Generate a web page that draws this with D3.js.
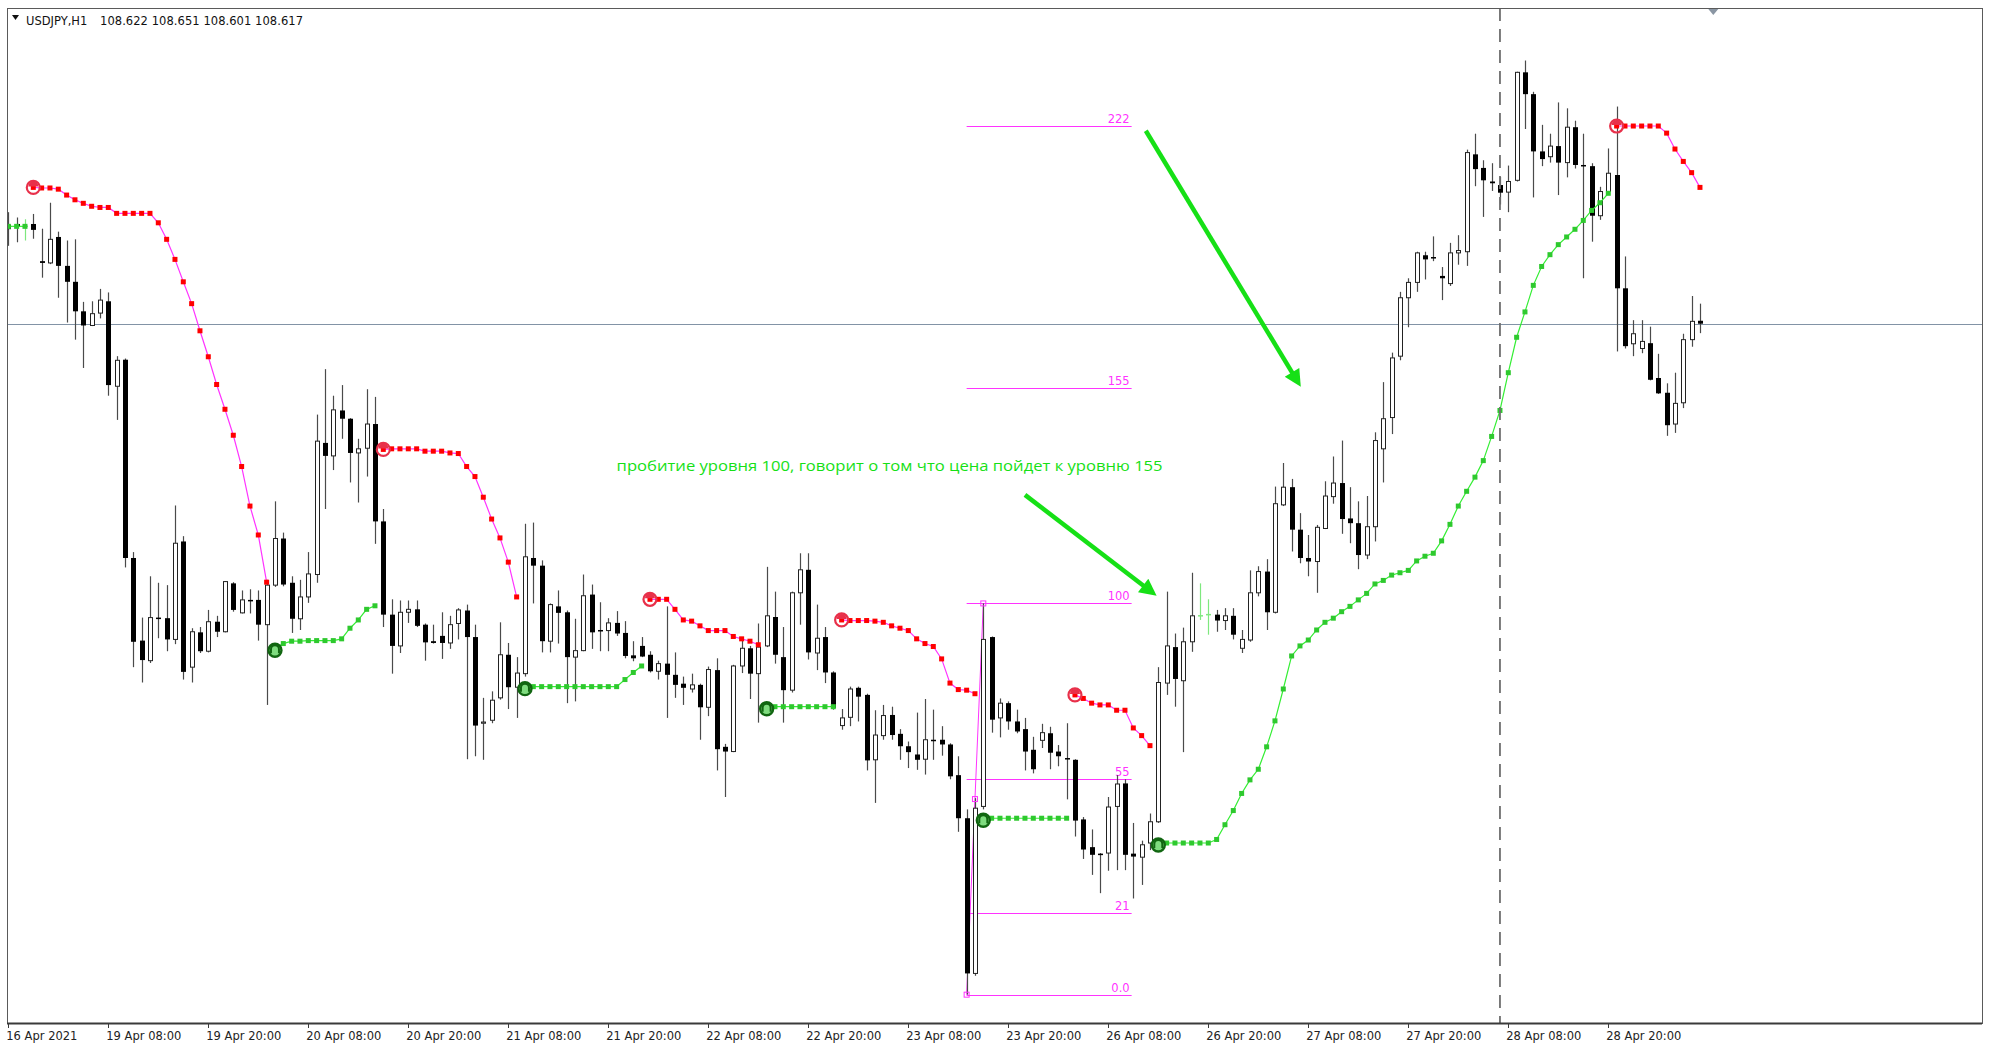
<!DOCTYPE html>
<html>
<head>
<meta charset="utf-8">
<script src="https://cdn.jsdelivr.net/npm/d3@7"></script>
<style>
    html, body { margin: 0; padding: 0; background: #fff; }
    svg { display: block; }
    text { font-family: "DejaVu Sans", sans-serif; }
</style>
</head>
<body>
<div id="chart"></div>
<script>
// USDJPY H1 bars, index 0 = 16 Apr 20:00, one bar per hour
const openPrices = [
    108.778,108.786,108.782,108.786,108.723,108.720,108.764,108.715,108.688,108.638,
    108.614,108.635,108.655,108.511,108.556,108.220,108.080,108.046,108.119,108.118,
    108.082,108.248,108.035,108.094,108.062,108.112,108.095,108.177,108.127,108.149,
    108.149,108.107,108.174,108.253,108.178,108.117,108.154,108.192,108.415,108.393,
    108.470,108.456,108.398,108.406,108.447,108.282,108.124,108.071,108.128,108.133,
    108.107,108.079,108.088,108.076,108.109,108.131,108.086,107.940,107.945,107.983,
    108.056,108.001,108.024,108.220,108.207,108.079,108.138,108.128,108.052,108.063,
    108.158,108.098,108.097,108.110,108.093,108.055,108.071,108.056,108.028,108.041,
    108.022,108.007,107.998,108.005,107.967,108.030,107.900,107.892,108.037,108.067,
    108.024,108.071,108.120,108.052,107.996,108.161,108.200,108.059,108.086,108.026,
    107.936,107.950,108.000,107.988,107.878,107.919,107.954,107.922,107.901,107.887,
    107.879,107.912,107.912,107.904,107.852,107.779,107.516,107.799,108.086,107.949,
    107.974,107.943,107.930,107.895,107.911,107.923,107.892,107.881,107.878,107.777,
    107.730,107.719,107.720,107.799,107.838,107.719,107.713,107.737,107.773,108.008,
    108.069,108.012,108.078,108.122,108.124,108.124,108.114,108.122,108.067,108.081,
    108.161,108.197,108.128,108.310,108.340,108.268,108.220,108.214,108.270,108.324,
    108.347,108.287,108.279,108.225,108.273,108.405,108.458,108.562,108.661,108.687,
    108.733,108.730,108.698,108.685,108.737,108.739,108.904,108.881,108.858,108.852,
    108.840,108.860,109.043,109.006,108.909,108.900,108.918,108.890,108.950,108.886,
    108.884,108.800,108.841,108.869,108.677,108.583,108.575,108.584,108.525,108.500,
    108.447,108.483,108.590,108.622
];
const highPrices = [
    108.806,108.797,108.794,108.803,108.778,108.822,108.773,108.758,108.760,108.654,
    108.655,108.676,108.670,108.562,108.558,108.230,108.119,108.189,108.178,108.174,
    108.309,108.257,108.101,108.103,108.132,108.122,108.181,108.179,108.165,108.167,
    108.165,108.183,108.316,108.263,108.189,108.183,108.230,108.463,108.540,108.495,
    108.513,108.457,108.422,108.506,108.493,108.303,108.150,108.148,108.148,108.148,
    108.109,108.107,108.128,108.122,108.135,108.141,108.107,107.983,107.994,108.111,
    108.076,108.052,108.278,108.280,108.216,108.143,108.165,108.131,108.117,108.192,
    108.175,108.145,108.118,108.130,108.113,108.079,108.086,108.062,108.046,108.138,
    108.060,108.019,108.024,108.007,108.036,108.050,107.905,108.039,108.082,108.071,
    108.109,108.205,108.163,108.103,108.163,108.228,108.228,108.141,108.103,108.028,
    107.964,108.002,108.002,107.990,107.962,107.971,107.968,107.930,107.909,107.958,
    107.981,107.963,107.935,107.906,107.884,107.794,107.813,108.143,108.087,107.982,
    107.977,107.963,107.949,107.917,107.939,107.934,107.903,107.940,107.879,107.781,
    107.760,107.720,107.815,107.852,107.845,107.771,107.741,107.787,108.035,108.163,
    108.092,108.102,108.195,108.177,108.150,108.132,108.135,108.135,108.098,108.199,
    108.206,108.218,108.341,108.381,108.354,108.296,108.259,108.276,108.350,108.392,
    108.419,108.340,108.316,108.325,108.433,108.518,108.568,108.671,108.694,108.739,
    108.739,108.765,108.713,108.754,108.767,108.912,108.939,108.894,108.889,108.866,
    108.885,109.044,109.063,109.010,108.954,108.939,108.992,108.982,108.961,108.939,
    108.889,108.849,108.914,108.985,108.731,108.623,108.623,108.612,108.566,108.516,
    108.534,108.600,108.664,108.651
];
const lowPrices = [
    108.749,108.755,108.758,108.761,108.695,108.718,108.661,108.619,108.590,108.542,
    108.613,108.626,108.495,108.454,108.204,108.035,108.009,108.042,108.084,108.062,
    108.074,108.014,108.009,108.059,108.060,108.086,108.094,108.129,108.126,108.126,
    108.080,107.971,108.171,108.172,108.093,108.098,108.144,108.178,108.303,108.369,
    108.422,108.348,108.314,108.358,108.244,108.103,108.024,108.059,108.110,108.103,
    108.046,108.075,108.049,108.066,108.082,107.879,107.884,107.878,107.940,107.980,
    107.964,107.949,108.019,108.143,108.060,108.060,108.075,107.974,107.977,108.062,
    108.066,108.062,108.062,108.088,108.050,108.045,108.052,108.026,108.014,107.949,
    107.983,107.971,107.992,107.912,107.952,107.860,107.815,107.891,108.025,107.981,
    107.941,108.069,108.041,107.941,107.992,108.107,108.048,108.030,108.008,107.963,
    107.929,107.935,107.943,107.860,107.805,107.912,107.912,107.878,107.864,107.861,
    107.853,107.878,107.885,107.845,107.756,107.480,107.512,107.794,107.924,107.916,
    107.929,107.923,107.860,107.855,107.898,107.862,107.867,107.811,107.748,107.710,
    107.683,107.652,107.690,107.691,107.691,107.643,107.666,107.725,107.771,107.988,
    107.968,107.891,108.061,108.115,108.090,108.095,108.098,108.082,108.059,108.078,
    108.155,108.098,108.126,108.308,108.231,108.211,108.189,108.161,108.269,108.312,
    108.261,108.245,108.201,108.218,108.248,108.348,108.430,108.555,108.611,108.671,
    108.692,108.723,108.657,108.681,108.717,108.715,108.850,108.798,108.842,108.819,
    108.806,108.858,108.947,108.831,108.884,108.890,108.835,108.865,108.880,108.694,
    108.756,108.793,108.838,108.570,108.575,108.562,108.567,108.521,108.498,108.427,
    108.432,108.474,108.578,108.601
];
const closePrices = [
    108.784,108.781,108.782,108.776,108.720,108.760,108.715,108.688,108.638,108.614,
    108.634,108.657,108.513,108.555,108.220,108.078,108.047,108.119,108.118,108.082,
    108.245,108.027,108.095,108.062,108.112,108.095,108.180,108.132,108.149,108.147,
    108.107,108.174,108.253,108.175,108.117,108.154,108.193,108.418,108.393,108.471,
    108.456,108.398,108.405,108.447,108.282,108.124,108.071,108.128,108.133,108.105,
    108.077,108.076,108.076,108.107,108.132,108.086,107.936,107.942,107.979,108.056,
    108.001,108.025,108.222,108.207,108.079,108.141,108.127,108.052,108.063,108.156,
    108.094,108.097,108.110,108.092,108.054,108.050,108.053,108.028,108.041,108.022,
    108.005,108.000,108.005,107.967,108.031,107.896,107.892,108.037,108.067,108.024,
    108.069,108.122,108.056,107.996,108.161,108.200,108.060,108.084,108.026,107.966,
    107.949,107.998,107.985,107.877,107.920,107.953,107.920,107.901,107.891,107.878,
    107.912,107.911,107.904,107.850,107.779,107.516,107.796,108.082,107.946,107.974,
    107.943,107.926,107.892,107.862,107.924,107.890,107.884,107.879,107.775,107.726,
    107.717,107.718,107.798,107.837,107.717,107.714,107.734,107.773,108.009,108.071,
    108.015,108.078,108.122,108.122,108.124,108.114,108.122,108.090,108.082,108.161,
    108.197,108.128,108.312,108.340,108.268,108.220,108.214,108.272,108.325,108.347,
    108.286,108.279,108.225,108.273,108.419,108.456,108.559,108.661,108.687,108.737,
    108.726,108.728,108.694,108.737,108.741,108.907,108.879,108.860,108.855,108.839,
    108.858,109.043,109.006,108.909,108.896,108.918,108.890,108.950,108.886,108.884,
    108.800,108.841,108.872,108.677,108.579,108.600,108.587,108.522,108.499,108.445,
    108.482,108.590,108.621,108.617
];

// Trailing stop indicator: each segment starts at bar "from"
const redStops = [
    { from: 3, values: [108.848,108.847,108.847,108.845,108.835,108.827,108.821,108.816,108.814,108.814,
        108.804,108.804,108.804,108.804,108.804,108.788,108.760,108.726,108.688,108.651,
        108.605,108.561,108.514,108.472,108.428,108.375,108.308,108.259,108.179] },
    { from: 45, values: [108.404,108.405,108.405,108.405,108.405,108.401,108.401,108.401,108.398,108.397,
        108.375,108.358,108.323,108.286,108.254,108.213,108.154] },
    { from: 77, values: [108.150,108.150,108.150,108.133,108.115,108.113,108.105,108.097,108.097,108.097,
        108.087,108.083,108.079,108.073] },
    { from: 100, values: [108.115,108.114,108.114,108.114,108.113,108.111,108.105,108.101,108.097,108.083,
        108.075,108.070,108.049,108.008,107.997,107.996,107.990] },
    { from: 128, values: [107.988,107.982,107.974,107.971,107.971,107.962,107.962,107.932,107.919,107.902] },
    { from: 193, values: [108.952,108.952,108.952,108.952,108.952,108.952,108.940,108.913,108.892,108.873,108.848] }
];
const greenStops = [
    { from: 0, values: [108.782,108.782,108.782], noIcon: true },
    { from: 32, values: [108.067,108.075,108.079,108.079,108.080,108.080,108.080,108.080,108.083,108.101,
        108.115,108.133,108.139] },
    { from: 62, values: [108.002,108.002,108.002,108.002,108.002,108.002,108.002,108.002,108.002,108.002,
        108.002,108.002,108.014,108.026,108.037] },
    { from: 91, values: [107.968,107.968,107.968,107.968,107.968,107.968,107.968,107.968,107.968] },
    { from: 117, values: [107.779,107.779,107.779,107.779,107.779,107.779,107.779,107.779,107.779,107.779,107.779] },
    { from: 138, values: [107.737,107.737,107.737,107.737,107.737,107.737,107.737,107.743,107.768,107.792,
        107.821,107.844,107.862,107.900,107.944,107.998,108.054,108.071,108.081,108.098,
        108.111,108.118,108.129,108.138,108.149,108.160,108.176,108.182,108.191,108.195,
        108.199,108.215,108.223,108.228,108.249,108.277,108.308,108.333,108.357,108.385,
        108.426,108.470,108.534,108.594,108.637,108.682,108.714,108.734,108.751,108.764,
        108.777,108.792,108.809,108.822,108.838] }
];

// Time axis labels, one every 12 bars
const timeLabels = ["16 Apr 2021","19 Apr 08:00","19 Apr 20:00","20 Apr 08:00","20 Apr 20:00",
    "21 Apr 08:00","21 Apr 20:00","22 Apr 08:00","22 Apr 20:00","23 Apr 08:00","23 Apr 20:00",
    "26 Apr 08:00","26 Apr 20:00","27 Apr 08:00","27 Apr 20:00","28 Apr 08:00","28 Apr 20:00"];

// Fibonacci retracement (bar 115 low -> bar 117 high)
const fibLevels = [0, 21, 55, 100, 155, 222];
const fibLabels = ["0.0", "21", "55", "100", "155", "222"];
const fibAnchors = [{ bar: 115, price: 107.480 }, { bar: 117, price: 108.143 }];
const fibEndBar = 134.8;

const symbolInfo = "USDJPY,H1";
const lastQuote = "108.622 108.651 108.601 108.617";
const bidPrice = 108.617;
const separatorBar = 179;

const noteText = "пробитие уровня 100, говорит о том что цена пойдет к уровню 155";
const noteAnchor = { bar: 73, price: 108.368 };
const noteArrows = [
    { from: [136.5, 108.944], to: [155.1, 108.510] },
    { from: [122.0, 108.327], to: [137.8, 108.156] }
];

const width = 1990, height = 1048;
const plot = { left: 7, top: 8, right: 1982, bottom: 1023 };
const noteGreen = "#16e016";

let svg, chart, x, y;

function setupChart() {
    svg = d3.select("#chart")
        .append("svg")
        .attr("width", width)
        .attr("height", height)
        .attr("viewBox", `0 0 ${width} ${height}`);

    svg.append("rect").attr("width", width).attr("height", height).attr("fill", "#fff");

    const defs = svg.append("defs");
    defs.append("clipPath").attr("id", "plotClip")
        .append("rect")
        .attr("x", plot.left).attr("y", plot.top)
        .attr("width", plot.right - plot.left).attr("height", plot.bottom - plot.top);
    defs.append("marker")
        .attr("id", "arrowHead")
        .attr("viewBox", "0 0 10 10")
        .attr("refX", 10).attr("refY", 5)
        .attr("markerWidth", 20).attr("markerHeight", 17)
        .attr("markerUnits", "userSpaceOnUse")
        .attr("orient", "auto")
        .append("path")
        .attr("d", "M0,0 L10,5 L0,10 Z")
        .attr("fill", noteGreen);

    // one bar = 8.33 px, the scales read the bar index and the price
    x = d3.scaleLinear().domain([0, 192]).range([8.3, 1608.3]);
    y = d3.scaleLinear().domain([107.432, 109.152]).range([plot.bottom, plot.top]);

    chart = svg.append("g").attr("clip-path", "url(#plotClip)");

    drawFibo();
    drawBidLine();
    drawCandles();
    drawStops(greenStops, "#33ee33", "#2ec92e", false);
    drawStops(redStops, "#ff33ff", "#ff0000", true);
    drawSeparator();
    drawFrame();
    drawTimeAxis();
    drawHeader();
    drawNote();
}

function drawBidLine() {
    chart.append("line")
        .attr("x1", plot.left).attr("x2", plot.right)
        .attr("y1", Math.round(y(bidPrice)) + 0.5).attr("y2", Math.round(y(bidPrice)) + 0.5)
        .attr("stroke", "#8293a6")
        .attr("stroke-width", 1);
}

function drawCandles() {
    const candles = openPrices.map((o, i) => ({
        i: i, o: o, h: highPrices[i], l: lowPrices[i], c: closePrices[i]
    }));
    const cx = d => Math.round(x(d.i));

    const g = chart.append("g").attr("class", "candles");

    // Wicks
    g.selectAll(".wick")
        .data(candles)
        .join("line")
        .attr("class", "wick")
        .attr("x1", d => cx(d) + 0.5).attr("x2", d => cx(d) + 0.5)
        .attr("y1", d => y(d.h)).attr("y2", d => y(d.l))
        .attr("stroke", d => d.o === d.c ? "#7ee87e" : "#4a4a4a")
        .attr("stroke-width", 1.2);

    // Bearish bodies (filled black)
    g.selectAll(".bear")
        .data(candles.filter(d => d.c < d.o))
        .join("rect")
        .attr("class", "bear")
        .attr("x", d => cx(d) - 2)
        .attr("y", d => y(d.o))
        .attr("width", 5)
        .attr("height", d => Math.max(1.5, y(d.c) - y(d.o)))
        .attr("fill", "#000");

    // Bullish bodies (hollow)
    g.selectAll(".bull")
        .data(candles.filter(d => d.c > d.o))
        .join("rect")
        .attr("class", "bull")
        .attr("x", d => cx(d) - 1.5)
        .attr("y", d => y(d.c))
        .attr("width", 4)
        .attr("height", d => Math.max(1, y(d.o) - y(d.c)))
        .attr("fill", "#fff")
        .attr("stroke", "#222")
        .attr("stroke-width", 1);

    // Doji bars are painted with the line colour
    g.selectAll(".doji")
        .data(candles.filter(d => d.c === d.o))
        .join("line")
        .attr("class", "doji")
        .attr("x1", d => cx(d) - 2).attr("x2", d => cx(d) + 3)
        .attr("y1", d => y(d.o)).attr("y2", d => y(d.o))
        .attr("stroke", "#7ee87e")
        .attr("stroke-width", 1.5);
}

function drawStops(segments, lineColor, dotColor, isRed) {
    const g = chart.append("g");
    const line = d3.line().x(d => x(d.bar)).y(d => y(d.price));

    segments.forEach(seg => {
        const pts = seg.values.map((v, k) => ({ bar: seg.from + k, price: v }));

        g.append("path")
            .attr("d", line(pts))
            .attr("fill", "none")
            .attr("stroke", lineColor)
            .attr("stroke-width", 1.2);

        g.selectAll(null)
            .data(pts)
            .join("rect")
            .attr("x", d => x(d.bar) - 2.5)
            .attr("y", d => y(d.price) - 2.5)
            .attr("width", 5).attr("height", 5)
            .attr("fill", dotColor);

        if (seg.noIcon) return;

        // Signal icon at the start of every segment
        const p0 = pts[0];
        const icon = g.append("g")
            .attr("transform", `translate(${x(p0.bar)}, ${y(p0.price) + (isRed ? 0 : 2)})`);
        if (isRed) {
            icon.append("circle").attr("r", 6.5)
                .attr("fill", "none").attr("stroke", "#e8304a").attr("stroke-width", 2.2);
            icon.append("path").attr("d", "M-5,-1 A5,5 0 0 1 5,-1 Z").attr("fill", "#e8304a");
        } else {
            icon.append("circle").attr("r", 6.5)
                .attr("fill", "#7fdc7f").attr("stroke", "#116611").attr("stroke-width", 2.4);
            icon.append("path").attr("d", "M-4,3 L-4,-1 A4,4 0 0 1 4,-1 L4,3")
                .attr("fill", "none").attr("stroke", "#116611").attr("stroke-width", 2);
        }
    });
}

function drawFibo() {
    const g = chart.append("g").attr("class", "fibo");
    const lowP = fibAnchors[0].price;
    const range = fibAnchors[1].price - fibAnchors[0].price;
    const x1 = x(fibAnchors[0].bar);
    const x2 = x(fibEndBar);

    const levels = fibLevels.map((lv, k) => ({ price: lowP + range * lv / 100, label: fibLabels[k] }));

    g.selectAll(".fib-line")
        .data(levels)
        .join("line")
        .attr("class", "fib-line")
        .attr("x1", x1).attr("x2", x2)
        .attr("y1", d => Math.round(y(d.price)) + 0.5)
        .attr("y2", d => Math.round(y(d.price)) + 0.5)
        .attr("stroke", "#ff33ff")
        .attr("stroke-width", 1);

    g.selectAll(".fib-label")
        .data(levels)
        .join("text")
        .attr("class", "fib-label")
        .attr("x", x2 - 2)
        .attr("y", d => y(d.price) - 3)
        .attr("text-anchor", "end")
        .style("font-size", "11.5px")
        .style("fill", "#ff33ff")
        .text(d => d.label);

    // Diagonal trend line between both anchors and the selection squares
    g.append("line")
        .attr("x1", x(fibAnchors[0].bar)).attr("y1", y(fibAnchors[0].price))
        .attr("x2", x(fibAnchors[1].bar)).attr("y2", y(fibAnchors[1].price))
        .attr("stroke", "#ff33ff")
        .attr("stroke-width", 1);

    const handles = [
        fibAnchors[0],
        { bar: (fibAnchors[0].bar + fibAnchors[1].bar) / 2, price: (fibAnchors[0].price + fibAnchors[1].price) / 2 },
        fibAnchors[1]
    ];
    svg.append("g").selectAll("rect")
        .data(handles)
        .join("rect")
        .attr("x", d => x(d.bar) - 2.5)
        .attr("y", d => y(d.price) - 2.5)
        .attr("width", 5).attr("height", 5)
        .attr("fill", "none")
        .attr("stroke", "#ff33ff")
        .attr("stroke-width", 1);
}

function drawSeparator() {
    svg.append("line")
        .attr("x1", x(separatorBar)).attr("x2", x(separatorBar))
        .attr("y1", plot.top).attr("y2", plot.bottom)
        .attr("stroke", "#6e6e6e")
        .attr("stroke-width", 1.8)
        .attr("stroke-dasharray", "13,8");
}

function drawFrame() {
    svg.append("rect")
        .attr("x", plot.left + 0.5).attr("y", plot.top + 0.5)
        .attr("width", plot.right - plot.left).attr("height", plot.bottom - plot.top)
        .attr("fill", "none")
        .attr("stroke", "#5a5a5a")
        .attr("stroke-width", 1);

    svg.append("line")
        .attr("x1", plot.left).attr("x2", plot.right)
        .attr("y1", plot.bottom + 0.5).attr("y2", plot.bottom + 0.5)
        .attr("stroke", "#3a3a3a")
        .attr("stroke-width", 2);

    // Chart shift marker
    const sx = x(204.6);
    svg.append("path")
        .attr("d", `M${sx - 5},${plot.top + 1} L${sx + 5},${plot.top + 1} L${sx},${plot.top + 7} Z`)
        .attr("fill", "#8a96a3");
}

function drawTimeAxis() {
    const ticks = timeLabels.map((t, k) => ({ bar: k * 12, label: t }));
    const g = svg.append("g").attr("class", "x-axis");

    g.selectAll("line")
        .data(ticks)
        .join("line")
        .attr("x1", d => Math.round(x(d.bar)) + 0.5).attr("x2", d => Math.round(x(d.bar)) + 0.5)
        .attr("y1", plot.bottom + 1).attr("y2", plot.bottom + 5)
        .attr("stroke", "#3a3a3a");

    g.selectAll("text")
        .data(ticks)
        .join("text")
        .attr("x", d => x(d.bar) - 2)
        .attr("y", plot.bottom + 17)
        .style("font-size", "11.5px")
        .style("fill", "#222")
        .text(d => d.label);
}

function drawHeader() {
    svg.append("path")
        .attr("d", "M12,15 L19,15 L15.5,20 Z")
        .attr("fill", "#111");
    svg.append("text")
        .attr("x", 26).attr("y", 25)
        .style("font-size", "11.5px")
        .style("fill", "#111")
        .text(symbolInfo);
    svg.append("text")
        .attr("x", 100).attr("y", 25)
        .attr("textLength", 203)
        .style("font-size", "11.5px")
        .style("fill", "#111")
        .text(lastQuote);
}

function drawNote() {
    svg.append("text")
        .attr("x", x(noteAnchor.bar))
        .attr("y", y(noteAnchor.price))
        .attr("textLength", 546)
        .attr("lengthAdjust", "spacingAndGlyphs")
        .style("font-family", "'Open Sans', sans-serif")
        .style("font-size", "15px")
        .style("fill", noteGreen)
        .text(noteText);

    noteArrows.forEach(a => {
        const x1 = x(a.from[0]), y1 = y(a.from[1]);
        const x2 = x(a.to[0]), y2 = y(a.to[1]);
        const len = Math.hypot(x2 - x1, y2 - y1);
        // stop the shaft inside the head so the tip stays sharp
        const ex = x2 - (x2 - x1) / len * 12, ey = y2 - (y2 - y1) / len * 12;
        svg.append("line")
            .attr("x1", x1).attr("y1", y1)
            .attr("x2", ex).attr("y2", ey)
            .attr("stroke", noteGreen)
            .attr("stroke-width", 4.5);
        svg.append("line")
            .attr("x1", ex).attr("y1", ey)
            .attr("x2", x2).attr("y2", y2)
            .attr("stroke", "none")
            .attr("marker-end", "url(#arrowHead)");
    });
}

setupChart();
</script>
</body>
</html>
